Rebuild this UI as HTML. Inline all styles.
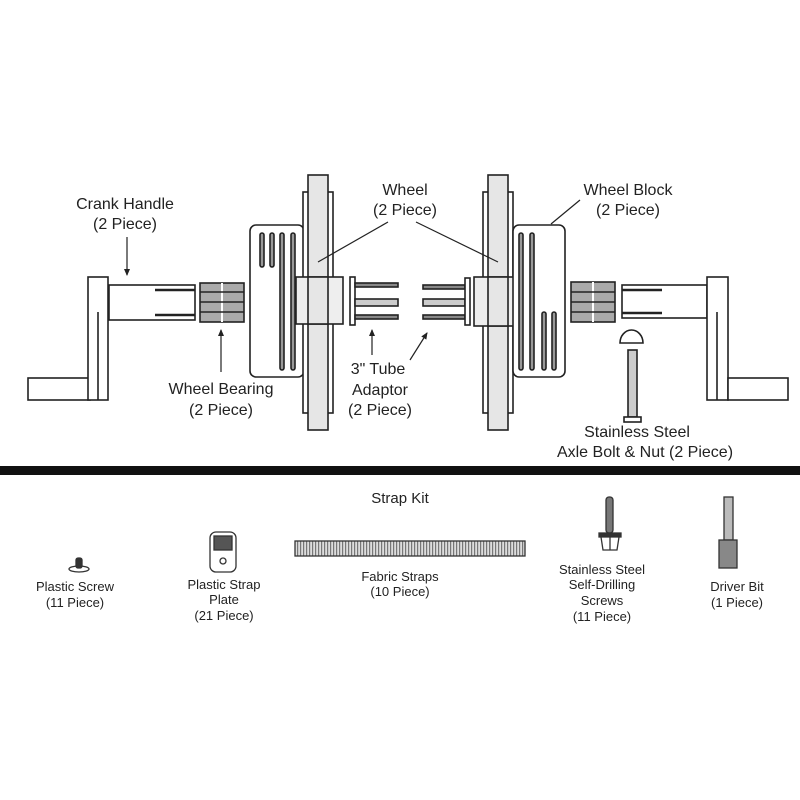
<!DOCTYPE html>
<html><head><meta charset="utf-8"><style>
html,body{margin:0;padding:0;background:#fff;}
svg{display:block;}
text{font-family:"Liberation Sans",sans-serif;fill:#222;}
</style></head><body>
<svg width="800" height="800" viewBox="0 0 800 800" xmlns="http://www.w3.org/2000/svg">
<defs>
<marker id="ah" markerWidth="8" markerHeight="8" refX="6" refY="4" orient="auto" markerUnits="userSpaceOnUse">
<path d="M0,1 L7,4 L0,7 Z" fill="#222"/></marker>
<pattern id="rib" width="3" height="15" patternUnits="userSpaceOnUse">
<rect width="3" height="15" fill="#ddd"/><rect width="1.2" height="15" fill="#777"/></pattern>
</defs>
<g stroke="#222" stroke-width="1.6" fill="#fff">
<rect x="28" y="378" width="62" height="22"/>
<rect x="88" y="277" width="20" height="123"/>
<line x1="98" y1="312" x2="98" y2="400"/>
<rect x="109" y="285" width="86" height="35"/>
<line x1="155" y1="290" x2="195" y2="290" stroke-width="2.5"/><line x1="155" y1="315" x2="195" y2="315" stroke-width="2.5"/>
<rect x="200" y="283" width="44" height="39" fill="#aaa"/>
<line x1="222" y1="283" x2="222" y2="322" stroke="#fff" stroke-width="2"/>
<line x1="200" y1="292" x2="244" y2="292"/><line x1="200" y1="302" x2="244" y2="302"/><line x1="200" y1="312" x2="244" y2="312"/>
<rect x="250" y="225" width="54" height="152" rx="6"/>
<rect x="260" y="233" width="4" height="34" rx="2" fill="#999"/>
<rect x="270" y="233" width="4" height="34" rx="2" fill="#999"/>
<rect x="280" y="233" width="4" height="137" rx="2" fill="#999"/>
<rect x="291" y="233" width="4" height="137" rx="2" fill="#999"/>
<rect x="303" y="192" width="30" height="221"/>
<rect x="308" y="175" width="20" height="255" fill="#e6e6e6"/>
<rect x="296" y="277" width="47" height="47" fill="#eee"/>
<rect x="308" y="277" width="20" height="47" fill="#e6e6e6"/>
<rect x="350" y="277" width="5" height="48"/>
<rect x="355" y="283" width="43" height="4" fill="#888"/>
<rect x="355" y="299" width="43" height="7" fill="#ccc"/>
<rect x="355" y="315" width="43" height="4" fill="#888"/>
<rect x="423" y="285" width="42" height="4" fill="#888"/>
<rect x="423" y="299" width="42" height="7" fill="#ccc"/>
<rect x="423" y="315" width="42" height="4" fill="#888"/>
<rect x="465" y="278" width="5" height="47"/>
<rect x="483" y="192" width="30" height="221"/>
<rect x="488" y="175" width="20" height="255" fill="#e6e6e6"/>
<rect x="474" y="277" width="48" height="49" fill="#eee"/>
<rect x="488" y="277" width="20" height="49" fill="#e6e6e6"/>
<rect x="513" y="225" width="52" height="152" rx="6"/>
<rect x="519" y="233" width="4" height="137" rx="2" fill="#999"/>
<rect x="530" y="233" width="4" height="137" rx="2" fill="#999"/>
<rect x="542" y="312" width="4" height="58" rx="2" fill="#999"/>
<rect x="552" y="312" width="4" height="58" rx="2" fill="#999"/>
<rect x="571" y="282" width="44" height="40" fill="#aaa"/>
<line x1="593" y1="282" x2="593" y2="322" stroke="#fff" stroke-width="2"/>
<line x1="571" y1="292" x2="615" y2="292"/><line x1="571" y1="302" x2="615" y2="302"/><line x1="571" y1="312" x2="615" y2="312"/>
<rect x="622" y="285" width="85" height="33"/>
<line x1="622" y1="290" x2="662" y2="290" stroke-width="2.5"/><line x1="622" y1="313" x2="662" y2="313" stroke-width="2.5"/>
<rect x="707" y="277" width="21" height="123"/>
<line x1="717" y1="312" x2="717" y2="400"/>
<rect x="728" y="378" width="60" height="22"/>
<path d="M620,343 A11.5,13 0 0 1 643,343 Z"/>
<rect x="628" y="350" width="9" height="67" fill="#ccc"/>
<rect x="624" y="417" width="17" height="5"/>
</g>
<g stroke="#222" stroke-width="1.2" fill="none">
<line x1="127" y1="237" x2="127" y2="275" marker-end="url(#ah)"/>
<line x1="221" y1="372" x2="221" y2="330" marker-end="url(#ah)"/>
<line x1="372" y1="355" x2="372" y2="330" marker-end="url(#ah)"/>
<line x1="410" y1="360" x2="427" y2="333" marker-end="url(#ah)"/>
<line x1="388" y1="222" x2="318" y2="262"/>
<line x1="416" y1="222" x2="498" y2="262"/>
<line x1="580" y1="200" x2="551" y2="224"/>
</g>
<g font-size="16" text-anchor="middle">
<text x="125" y="209">Crank Handle</text><text x="125" y="229">(2 Piece)</text>
<text x="405" y="195">Wheel</text><text x="405" y="215">(2 Piece)</text>
<text x="628" y="195">Wheel Block</text><text x="628" y="215">(2 Piece)</text>
<text x="221" y="394">Wheel Bearing</text><text x="221" y="415">(2 Piece)</text>
<text x="378" y="374">3" Tube</text><text x="380" y="395">Adaptor</text><text x="380" y="415">(2 Piece)</text>
<text x="637" y="437">Stainless Steel</text><text x="645" y="457">Axle Bolt &amp; Nut (2 Piece)</text>
</g>
<rect x="0" y="466" width="800" height="9" fill="#111"/>
<text x="400" y="503" font-size="15" text-anchor="middle">Strap Kit</text>
<g stroke="#333" stroke-width="1.3" fill="#fff">
<ellipse cx="79" cy="569" rx="10" ry="3"/>
<rect x="76" y="558" width="6" height="10" rx="2" fill="#333"/>
<rect x="210" y="532" width="26" height="40" rx="6"/>
<rect x="214" y="536" width="18" height="14" fill="#555"/>
<circle cx="223" cy="561" r="3"/>
<rect x="295" y="541" width="230" height="15" fill="url(#rib)"/>
<rect x="606" y="497" width="7" height="36" rx="3" fill="#777"/>
<rect x="599" y="533" width="22" height="4" fill="#333"/>
<path d="M601,537 L619,537 L617,550 L603,550 Z"/>
<line x1="610" y1="537" x2="610" y2="550"/>
<rect x="724" y="497" width="9" height="43" fill="#bbb"/>
<rect x="719" y="540" width="18" height="28" fill="#888"/>
</g>
<g font-size="13" text-anchor="middle">
<text x="75" y="591">Plastic Screw</text><text x="75" y="607">(11 Piece)</text>
<text x="224" y="589">Plastic Strap</text><text x="224" y="604">Plate</text><text x="224" y="620">(21 Piece)</text>
<text x="400" y="581">Fabric Straps</text><text x="400" y="596">(10 Piece)</text>
<text x="602" y="574">Stainless Steel</text><text x="602" y="589">Self-Drilling</text><text x="602" y="605">Screws</text><text x="602" y="621">(11 Piece)</text>
<text x="737" y="591">Driver Bit</text><text x="737" y="607">(1 Piece)</text>
</g>
</svg>
</body></html>
